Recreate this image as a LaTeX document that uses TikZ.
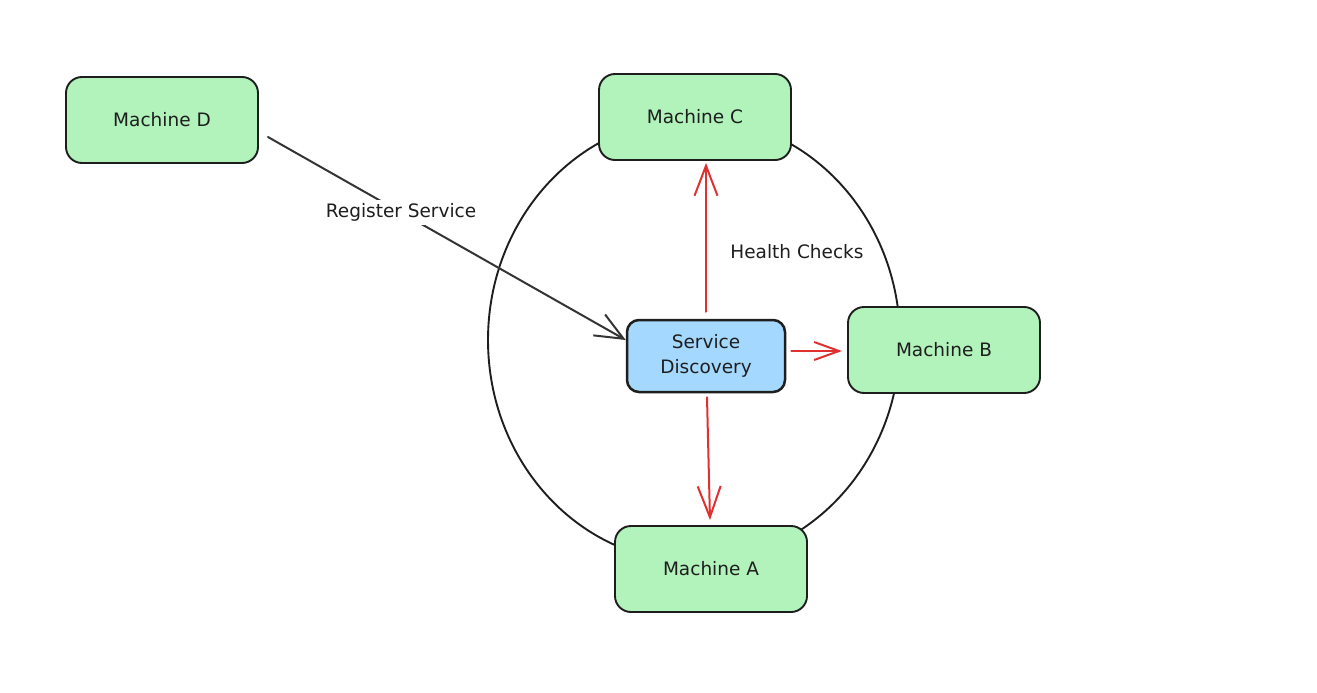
\documentclass[tikz,border=0pt]{standalone}
\usepackage{fontspec}
\setmainfont{DejaVu Sans}
\usetikzlibrary{arrows.meta}
\definecolor{boxgreen}{HTML}{B2F2BB}
\definecolor{boxblue}{HTML}{A5D8FF}
\definecolor{ink}{HTML}{1E1E1E}
\definecolor{redink}{HTML}{E03131}
\definecolor{grayink}{HTML}{343434}
\tikzset{
  machine/.style={draw=ink, line width=1.9pt, fill=boxgreen, rounded corners=16pt,
    minimum width=192pt, minimum height=86pt, inner sep=0pt, font=\fontsize{18.5}{22}\selectfont, text=ink},
  discovery/.style={draw=ink, line width=2.5pt, fill=boxblue, rounded corners=12pt,
    minimum width=158pt, minimum height=72pt, inner sep=0pt, align=center,
    font=\fontsize{18.5}{25}\selectfont, text=ink},
  redarrow/.style={draw=redink, line width=2pt, line cap=round},
  regarrow/.style={draw=grayink, line width=2pt, line cap=round},
  lbl/.style={font=\fontsize{18.5}{22}\selectfont, text=ink},
}
\begin{document}
\begin{tikzpicture}[x=1pt,y=-1pt]
\useasboundingbox (0,0) rectangle (1317,693);
\draw[ink, line width=1.9pt] (694,340) ellipse [x radius=206pt, y radius=222pt];
\node[machine] (d) at (162,120) {Machine D};
\node[machine] (c) at (695,117) {Machine C};
\node[machine] (b) at (944,350) {Machine B};
\node[machine] (a) at (711,569) {Machine A};
\node[discovery] (sd) at (706,356) {Service\\Discovery};
\node[lbl] (hc) at (797,252) {Health Checks};
% red health-check arrows
\draw[redarrow, -{Straight Barb[length=30pt, width=23pt, line width=2pt]}]
  ([yshift=7pt]sd.north) -- ([xshift=11pt,yshift=-2pt]c.south);
\draw[redarrow, -{Straight Barb[length=25pt, width=18pt, line width=2pt]}]
  ([xshift=5pt,yshift=5pt]sd.east) -- ([xshift=-5pt,yshift=-1pt]b.west);
\draw[redarrow, -{Straight Barb[length=31pt, width=23pt, line width=2pt]}]
  ([xshift=1pt,yshift=-4pt]sd.south) -- ([xshift=-1pt,yshift=5pt]a.north);
% register arrow
\draw[regarrow, -{Straight Barb[length=28pt, width=24pt, line width=2pt]}]
  ([xshift=9pt,yshift=-17pt]d.east) -- node[pos=0.372, fill=white, inner sep=4pt, lbl] (reg) {Register Service} ([yshift=16pt]sd.west);
\end{tikzpicture}
\end{document}
